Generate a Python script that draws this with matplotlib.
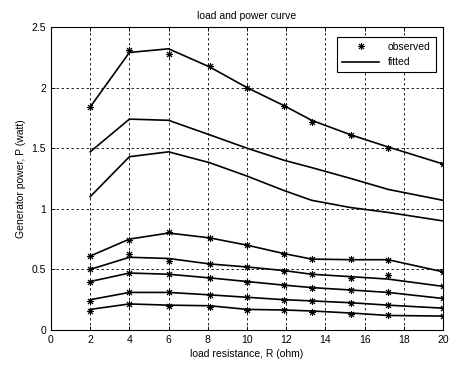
import matplotlib
matplotlib.use("Agg")
import matplotlib.pyplot as plt

R = [2, 4, 6, 8.1, 10, 11.9, 13.3, 15.3, 17.2, 20]

fit1 = [1.84, 2.29, 2.32, 2.17, 2.00, 1.85, 1.73, 1.61, 1.51, 1.37]
obs1 = [1.84, 2.31, 2.28, 2.18, 2.00, 1.85, 1.72, 1.61, 1.50, 1.37]
fit2 = [1.47, 1.74, 1.73, 1.61, 1.50, 1.40, 1.34, 1.25, 1.16, 1.07]
fit3 = [1.10, 1.43, 1.47, 1.38, 1.27, 1.15, 1.07, 1.01, 0.97, 0.90]
fit4 = [0.61, 0.75, 0.80, 0.76, 0.70, 0.63, 0.585, 0.58, 0.58, 0.48]
obs4 = [0.61, 0.74, 0.81, 0.76, 0.70, 0.63, 0.585, 0.585, 0.58, 0.48]
fit5 = [0.50, 0.60, 0.59, 0.545, 0.52, 0.49, 0.46, 0.44, 0.42, 0.36]
obs5 = [0.50, 0.63, 0.57, 0.545, 0.52, 0.49, 0.46, 0.43, 0.45, 0.36]
fit6 = [0.40, 0.47, 0.46, 0.43, 0.40, 0.37, 0.35, 0.33, 0.31, 0.26]
obs6 = [0.40, 0.47, 0.46, 0.43, 0.40, 0.37, 0.35, 0.33, 0.31, 0.26]
fit7 = [0.25, 0.31, 0.31, 0.29, 0.27, 0.25, 0.24, 0.225, 0.205, 0.18]
obs7 = [0.24, 0.31, 0.31, 0.29, 0.27, 0.25, 0.24, 0.225, 0.21, 0.18]
fit8 = [0.17, 0.215, 0.205, 0.20, 0.17, 0.165, 0.157, 0.14, 0.12, 0.115]
obs8 = [0.16, 0.215, 0.20, 0.19, 0.165, 0.165, 0.15, 0.13, 0.125, 0.115]

fits = [fit1, fit2, fit3, fit4, fit5, fit6, fit7, fit8]
observed = [obs1, obs4, obs5, obs6, obs7, obs8]

xticks = [0, 2, 4, 6, 8, 10, 12, 14, 16, 18, 20]
yticks = [0, 0.5, 1, 1.5, 2, 2.5]
ytick_labels = ["0", "0.5", "1", "1.5", "2", "2.5"]

plt.rcParams['font.family'] = ['Liberation Sans', 'DejaVu Sans']

fig = plt.figure(figsize=(4.49, 3.65), dpi=100)
ax = fig.add_axes([51/449, 35/365, 392/449, 303/365])

star = (8, 2, 0)
for i, obs in enumerate(observed):
    ax.plot(R, obs, linestyle='none', marker=star, markersize=5, color='black',
            markeredgewidth=0.7, label='observed' if i == 0 else None)
for i, f in enumerate(fits):
    ax.plot(R, f, color='black', linewidth=1.2, label='fitted' if i == 0 else None)

ax.set_xlim(0, 20)
ax.set_ylim(0, 2.5)
ax.set_xticks(xticks)
ax.set_yticks(yticks)
ax.set_yticklabels(ytick_labels)
ax.grid(True, color='black', linestyle=(0, (3, 3)), linewidth=0.6)
ax.tick_params(direction='in', length=3, width=0.6, labelsize=7.5, top=True, right=True, colors='black')
for s in ax.spines.values():
    s.set_linewidth(0.8)

ax.set_title('load and power curve', fontsize=7.5, pad=6)
ax.set_xlabel('load resistance, R (ohm)', fontsize=7.5, labelpad=3)
ax.set_ylabel('Generator power, P (watt)', fontsize=7.5, labelpad=4)

leg = ax.legend(loc='upper right', fontsize=7.5, frameon=True, fancybox=False,
                edgecolor='black', framealpha=1, borderpad=0.5, handlelength=3.6,
                bbox_to_anchor=(0.995, 0.985))
leg.get_frame().set_linewidth(0.8)

fig.savefig('out.png', dpi=100)
